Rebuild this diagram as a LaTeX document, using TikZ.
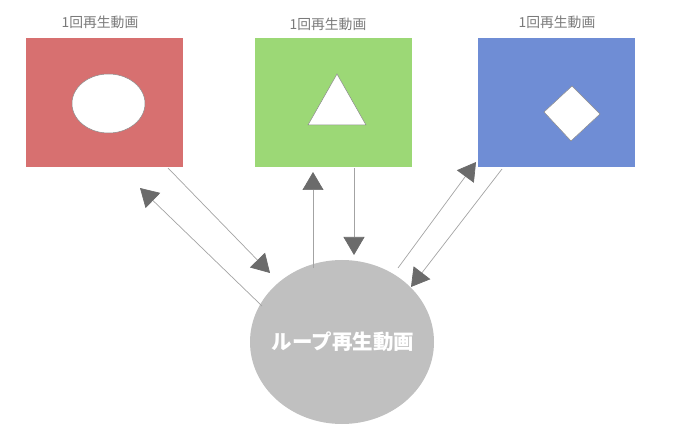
\documentclass[tikz,border=0pt]{standalone}
\usepackage{fontspec}
\newfontfamily\jpfont{Noto Sans CJK JP}
\usetikzlibrary{arrows.meta,shapes.geometric}
\definecolor{boxred}{HTML}{D77070}
\definecolor{boxgreen}{HTML}{9CD876}
\definecolor{boxblue}{HTML}{6F8DD5}
\definecolor{loopgray}{HTML}{C0C0C0}
\definecolor{linegray}{HTML}{A3A3A3}
\definecolor{tipgray}{HTML}{6B6B6B}
\definecolor{titlegray}{HTML}{7A7A7A}
\definecolor{edgegray}{HTML}{8A8A8A}
\tikzset{
  clipbox/.style={draw=none, rectangle, minimum width=157pt, minimum height=129pt, inner sep=0pt},
  cliptitle/.style={font=\jpfont\fontsize{13.8}{16}\selectfont, text=titlegray, inner sep=0pt},
  glyph/.style={fill=white, draw=edgegray, line width=0.5pt},
  flow/.style={draw=linegray, line width=0.7pt, -{Triangle[length=18pt,width=21pt,color=tipgray]}},
}
\begin{document}
\begin{tikzpicture}[x=1pt,y=-1pt]
\useasboundingbox (0,0) rectangle (689,441);

% three single-play clips
\node[clipbox, fill=boxred]   (red)   at (104.5,102.5) {};
\node[clipbox, fill=boxgreen] (green) at (333.5,102.5) {};
\node[clipbox, fill=boxblue]  (blue)  at (556,102.5) {};

\node[cliptitle] (tred)   at (100,22) {1回再生動画};
\node[cliptitle] (tgreen) at (328,24) {1回再生動画};
\node[cliptitle] (tblue)  at (557,22) {1回再生動画};

% symbols inside the clips
\node[glyph, ellipse, minimum width=73pt, minimum height=59pt, inner sep=0pt] (oval) at (108.5,103.5) {};
\draw[glyph] (337,74) -- (366,125) -- (308,125) -- cycle;
\draw[glyph] (572,86) -- (600,114) -- (571,141) -- (544,112) -- cycle;

% looping clip
\fill[loopgray] (342,342) ellipse [x radius=92, y radius=82];
\node[font=\jpfont\bfseries\fontsize{20.5}{24}\selectfont, text=white, inner sep=0pt] (loop) at (343,342) {ループ再生動画};

% connector end points
\coordinate (r1) at (168,168);  \coordinate (r1t) at (270,273);
\coordinate (r2) at (262,306);  \coordinate (r2t) at (140,188);
\coordinate (g1) at (313,268);  \coordinate (g1t) at (313,172);
\coordinate (g2) at (354,168);  \coordinate (g2t) at (354,255);
\coordinate (b1) at (398,268);  \coordinate (b1t) at (476,162);
\coordinate (b2) at (502,169);  \coordinate (b2t) at (411,287);

\draw[flow] (r1) -- (r1t);
\draw[flow] (r2) -- (r2t);
\draw[flow] (g1) -- (g1t);
\draw[flow] (g2) -- (g2t);
\draw[flow] (b1) -- (b1t);
\draw[flow] (b2) -- (b2t);
\end{tikzpicture}
\end{document}
